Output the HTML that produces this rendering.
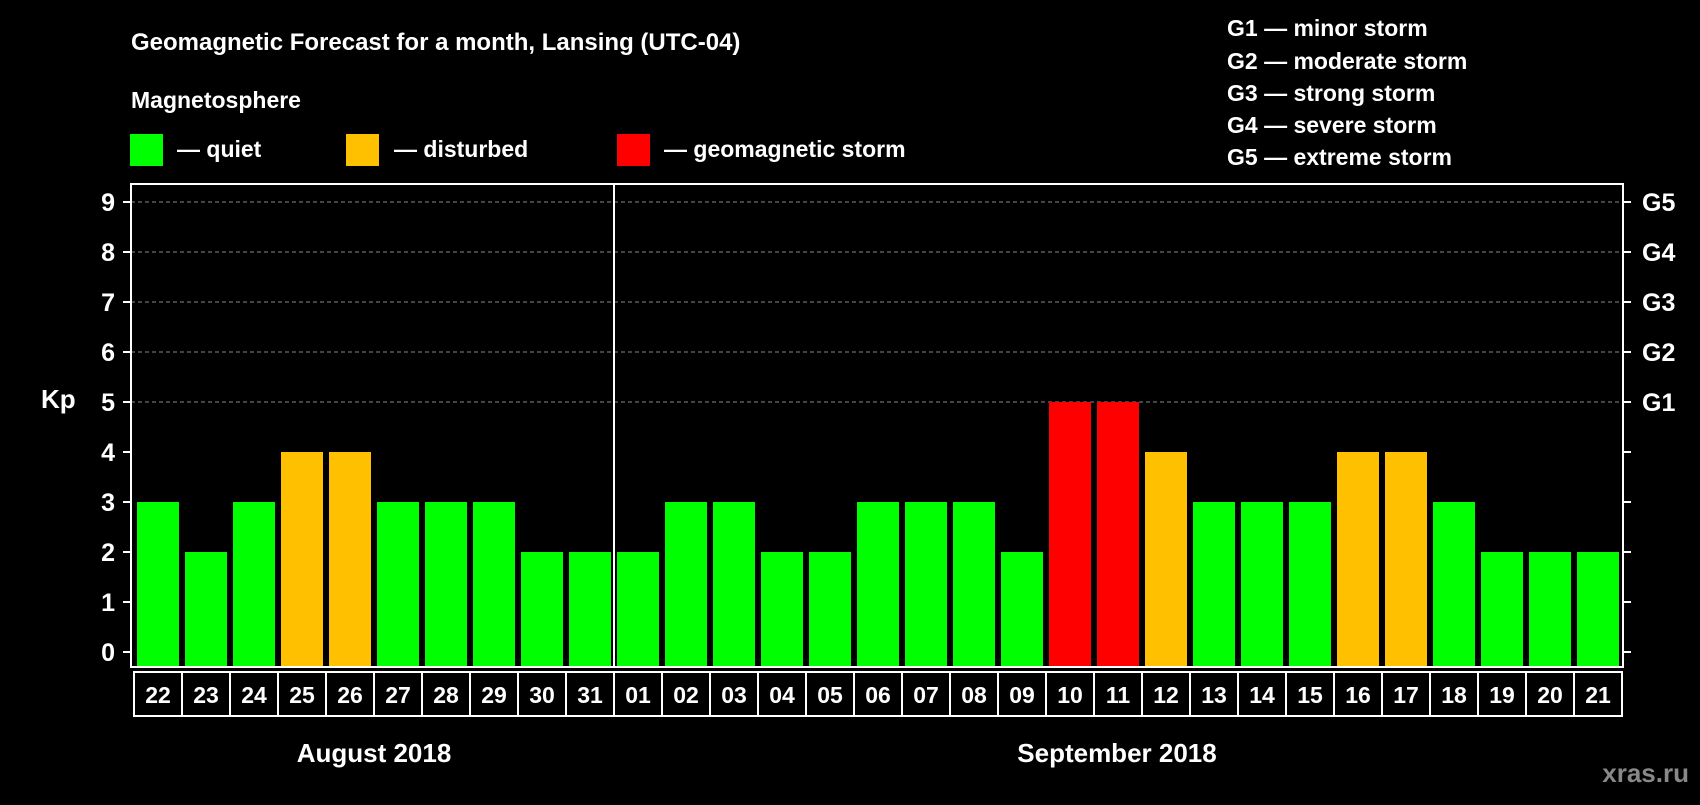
<!DOCTYPE html>
<html><head><meta charset="utf-8"><style>
body{margin:0;background:#000;width:1700px;height:800px;overflow:hidden}
svg text{font-family:"Liberation Sans",Arial,sans-serif;font-weight:bold;fill:#fff}
</style></head><body>
<svg id="c" width="1700" height="800" xmlns="http://www.w3.org/2000/svg">
<rect width="1700" height="800" fill="#000"/>
<text x="131" y="50" font-size="24">Geomagnetic Forecast for a month, Lansing (UTC-04)</text>
<text x="131" y="108" font-size="23">Magnetosphere</text>
<rect x="130" y="134" width="33" height="32" fill="#00ff00"/>
<text x="177" y="157" font-size="23">— quiet</text>
<rect x="346" y="134" width="33" height="32" fill="#ffc000"/>
<text x="394" y="157" font-size="23">— disturbed</text>
<rect x="617" y="134" width="33" height="32" fill="#ff0000"/>
<text x="664" y="157" font-size="23">— geomagnetic storm</text>
<g font-size="23">
<text x="1227" y="36">G1 — minor storm</text>
<text x="1227" y="69">G2 — moderate storm</text>
<text x="1227" y="101">G3 — strong storm</text>
<text x="1227" y="133">G4 — severe storm</text>
<text x="1227" y="165">G5 — extreme storm</text>
</g>
<text x="41" y="408" font-size="26">Kp</text>
<text x="1689" y="782" font-size="26" text-anchor="end" style="fill:#888">xras.ru</text>
<text x="374" y="762" font-size="26" text-anchor="middle">August 2018</text>
<text x="1117" y="762" font-size="26" text-anchor="middle">September 2018</text>
<g id="g"></g>
</svg>
<script>
const days=["22","23","24","25","26","27","28","29","30","31","01","02","03","04","05","06","07","08","09","10","11","12","13","14","15","16","17","18","19","20","21"];
const kp=[3,2,3,4,4,3,3,3,2,2,2,3,3,2,2,3,3,3,2,5,5,4,3,3,3,4,4,3,2,2,2];
const yTicks=["0","1","2","3","4","5","6","7","8","9"];
const gLabels=["G1","G2","G3","G4","G5"];
const NS="http://www.w3.org/2000/svg";
const g=document.getElementById('g');
const L=131,R=1623,T=184,B=667,X0=134,SW=48;
function y(v){return 652-v*50;}
function x(i){return X0+i*SW;}
function mk(t,a){const e=document.createElementNS(NS,t);for(const k in a)e.setAttribute(k,a[k]);g.appendChild(e);return e;}
for(let v=5;v<=9;v++){const l=mk('line',{x1:L,x2:R,y1:y(v),y2:y(v),stroke:'#888','stroke-dasharray':'4,3','stroke-width':1});

}
kp.forEach((v,i)=>{const c=v>=5?'#ff0000':v>=4?'#ffc000':'#00ff00';
const r=mk('rect',{x:x(i)+3,y:y(v),width:42,height:B-y(v),fill:c});


const b=mk('rect',{x:x(i),y:672,width:SW,height:44,fill:'none',stroke:'#fff','stroke-width':2});


const t=mk('text',{x:x(i)+SW/2,y:703,'font-size':23,'text-anchor':'middle'});t.textContent=days[i];

});
const d=mk('line',{x1:x(10),x2:x(10),y1:T,y2:B,stroke:'#fff','stroke-width':2});


const f=mk('rect',{x:L,y:T,width:R-L,height:B-T,fill:'none',stroke:'#fff','stroke-width':2});


yTicks.forEach((s,i)=>{mk('line',{x1:L-8,x2:L,y1:y(i),y2:y(i),stroke:'#fff','stroke-width':2});
mk('line',{x1:R,x2:R+8,y1:y(i),y2:y(i),stroke:'#fff','stroke-width':2});
const t=mk('text',{x:115,y:y(i)+9,'font-size':25,'text-anchor':'end'});t.textContent=s;

});
gLabels.forEach((s,i)=>{const t=mk('text',{x:1642,y:y(5+i)+9,'font-size':25});t.textContent=s;

});
</script>
</body></html>
